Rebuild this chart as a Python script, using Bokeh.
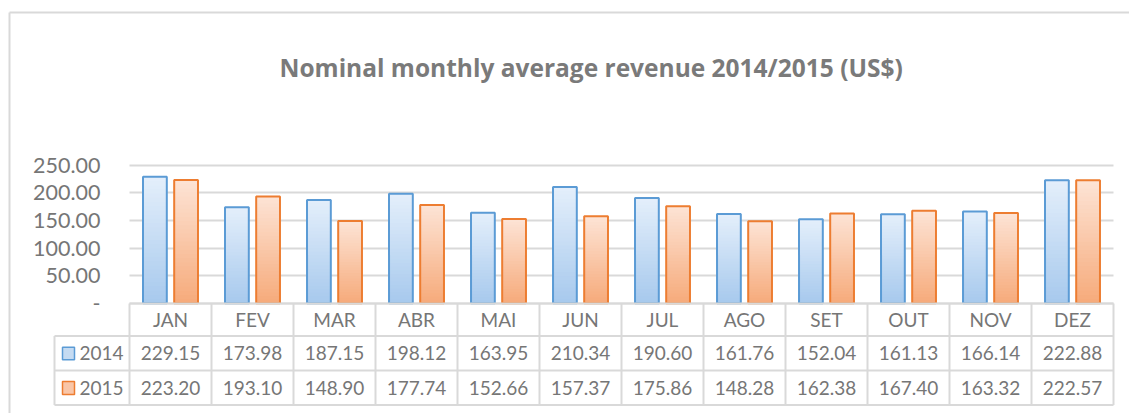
from bokeh.plotting import figure
from bokeh.models import (ColumnDataSource, Range1d, FixedTicker, NumeralTickFormatter)
from bokeh.core.properties import value
from bokeh.embed import file_html
from bokeh.resources import INLINE

# ---------------- data ----------------
months = ["JAN", "FEV", "MAR", "ABR", "MAI", "JUN", "JUL", "AGO", "SET", "OUT", "NOV", "DEZ"]
rev_2014 = [229.15, 173.98, 187.15, 198.12, 163.95, 210.34, 190.60, 161.76, 152.04, 161.13, 166.14, 222.88]
rev_2015 = [223.20, 193.10, 148.90, 177.74, 152.66, 157.37, 175.86, 148.28, 162.38, 167.40, 163.32, 222.57]
series = ["2014", "2015"]
y_ticks = [0, 50, 100, 150, 200, 250]
title_text = "Nominal monthly average revenue 2014/2015 (US$)"

# ---------------- styling / layout (canvas pixels) ----------------
FONT = "Lato"
TXT = "#767676"
GRID = "#d9d9d9"
BLUE_LINE, BLUE_FILL = "#5b9bd5", "#c5dbf2"
ORNG_LINE, ORNG_FILL = "#ed7d31", "#f9c6a8"
BLUE_TOP, BLUE_BOT = (228, 239, 251), (167, 201, 237)
ORNG_TOP, ORNG_BOT = (253, 228, 214), (246, 170, 122)

W, H = 1129, 413
plot_left, plot_right = 129, 1113       # plot area, horizontal
zero_px = 302.7                          # canvas y of value 0
px_per_unit = 27.6 / 50
n = len(months)
col_w = (plot_right - plot_left) / n

p = figure(width=W, height=H, output_backend="svg", toolbar_location=None,
           x_range=Range1d(-plot_left / col_w, (W - plot_left) / col_w),
           y_range=Range1d(-(H - zero_px) / px_per_unit, zero_px / px_per_unit),
           min_border_left=0, min_border_right=0, min_border_top=0, min_border_bottom=0)
# canvas-pixel ranges for the layout elements (table, borders)
p.extra_x_ranges = {"px": Range1d(0, W)}
p.extra_y_ranges = {"px": Range1d(-H, 0)}

p.outline_line_color = None
p.background_fill_color = "white"
p.border_fill_color = "white"

# axes / grid
p.xaxis.visible = False
p.xgrid.visible = False
ya = p.yaxis[0]
ya.fixed_location = 0
ya.ticker = FixedTicker(ticks=y_ticks)
ya.formatter = NumeralTickFormatter(format="0.00")
ya.major_label_overrides = {0: "-"}
ya.axis_line_color = None
ya.major_tick_line_color = None
ya.minor_tick_line_color = None
ya.major_tick_out = 0
ya.major_tick_in = 0
ya.major_label_standoff = 29
ya.major_label_text_font = FONT
ya.major_label_text_font_size = "21.5px"
ya.major_label_text_color = TXT
yg = p.ygrid[0]
yg.ticker = FixedTicker(ticks=y_ticks)
yg.cross_bounds = (0, n)
yg.grid_line_color = GRID
yg.grid_line_width = 2

# title
p.text(x=[279], y=[-66.5], text=[title_text], x_range_name="px", y_range_name="px",
       text_font=value("Open Sans"), text_font_style="bold", text_font_size="24.5px",
       text_color="#7a7a7a", text_align="left", text_baseline="alphabetic")

# outer chart border (left and top edges)
p.multi_line(xs=[[9, 9], [9, W + 5]], ys=[[-12, -H - 5], [-12, -12]],
             x_range_name="px", y_range_name="px", line_color=GRID, line_width=2)

# bars (vertical gradient fill built from overlapping bands, then the outline)
centers = [i + 0.5 for i in range(n)]
BAR_W = 0.29
N_BANDS = 30


def hexc(c):
    return "#%02x%02x%02x" % tuple(int(round(v)) for v in c)


def gradient_source(xpos, vals, ctop, cbot):
    d = dict(x=[], top=[], bottom=[], color=[])
    for x, v in zip(xpos, vals):
        for k in range(N_BANDS):
            t = (k + 0.5) / N_BANDS
            d["x"].append(x)
            d["bottom"].append(v * k / N_BANDS)
            d["top"].append(min(v, v * (k + 1) / N_BANDS + 3.0))
            d["color"].append(hexc([cb + (ct - cb) * t for ct, cb in zip(ctop, cbot)]))
    return ColumnDataSource(d)


x14 = [c - 0.19 for c in centers]
x15 = [c + 0.19 for c in centers]
p.vbar(x="x", top="top", bottom="bottom", width=BAR_W, fill_color="color", line_color=None,
       source=gradient_source(x14, rev_2014, BLUE_TOP, BLUE_BOT))
p.vbar(x="x", top="top", bottom="bottom", width=BAR_W, fill_color="color", line_color=None,
       source=gradient_source(x15, rev_2015, ORNG_TOP, ORNG_BOT))
src = ColumnDataSource(dict(x14=x14, x15=x15, v14=rev_2014, v15=rev_2015, m=months))
p.vbar(x="x14", top="v14", bottom=0, width=BAR_W, source=src,
       fill_alpha=0, line_color=BLUE_LINE, line_width=2)
p.vbar(x="x15", top="v15", bottom=0, width=BAR_W, source=src,
       fill_alpha=0, line_color=ORNG_LINE, line_width=2)

# ---------------- data table ----------------
row_y = [303, 335.5, 370, 404.5]       # canvas y of table row boundaries
leg_left = 54
xs, ys = [], []
xs.append([plot_left, plot_right]); ys.append([-row_y[0], -row_y[0]])
for yy in row_y[1:]:
    xs.append([leg_left, plot_right]); ys.append([-yy, -yy])
for k in range(n + 1):
    xx = plot_left + k * col_w
    xs.append([xx, xx]); ys.append([-row_y[0], -row_y[-1]])
xs.append([leg_left, leg_left]); ys.append([-row_y[1], -row_y[-1]])
p.multi_line(xs=xs, ys=ys, line_color=GRID, line_width=2,
             x_range_name="px", y_range_name="px")

hdr_c = 319
r14_c = 352.7
r15_c = 387.6
tsrc = ColumnDataSource(dict(
    x=centers, m=months,
    t14=["%.2f" % v for v in rev_2014], t15=["%.2f" % v for v in rev_2015]))
common = dict(text_font=value(FONT), text_font_size="19px", text_color=TXT,
              text_align="center", text_baseline="middle", source=tsrc)
p.text(x="x", y=-hdr_c, text="m", y_range_name="px", **common)
p.text(x="x", y=-r14_c, text="t14", y_range_name="px", **common)
p.text(x="x", y=-r15_c, text="t15", y_range_name="px", **common)

# legend keys of the table
p.quad(left=[62, 62], right=[74, 74],
       top=[-(r14_c - 6), -(r15_c - 6.5)], bottom=[-(r14_c + 6.5), -(r15_c + 6.5)],
       fill_color=[BLUE_FILL, ORNG_FILL], line_color=[BLUE_LINE, ORNG_LINE], line_width=1.5,
       x_range_name="px", y_range_name="px")
p.text(x=[79, 79], y=[-r14_c, -r15_c], text=series, x_range_name="px", y_range_name="px",
       text_font=value(FONT), text_font_size="19px", text_color=TXT,
       text_align="left", text_baseline="middle")

open("out.html", "w").write(file_html(p, INLINE))
